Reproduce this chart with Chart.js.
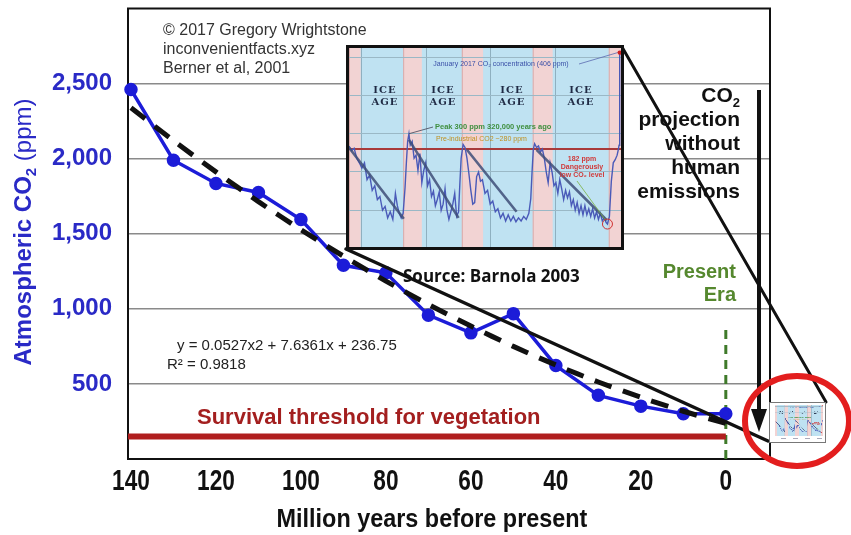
<!DOCTYPE html>
<html><head><meta charset="utf-8">
<script src="https://cdn.jsdelivr.net/npm/chart.js@4.4.1/dist/chart.umd.min.js"></script>
<style>
html,body{margin:0;padding:0;background:#fff;}
#wrap{position:relative;width:851px;height:535px;overflow:hidden;background:#fff;}
#main{position:absolute;left:0;top:0;}
#insetBox{position:absolute;left:346px;top:45px;width:272px;height:199px;border:3px solid #111;background:#bfe2f2;}
#inset{display:block;}
#thumb{position:absolute;left:769px;top:402px;}
</style></head><body>
<div id="wrap">
<canvas id="main" width="851" height="535"></canvas>
<div id="insetBox"><canvas id="inset" width="272" height="199"></canvas></div>
<canvas id="thumb" width="57" height="41"></canvas>
</div>
<script>
// ---------- main chart data ----------
const ages = [140,130,120,110,100,90,80,70,60,50,40,30,20,10,0];
const co2 = [2460,1990,1835,1775,1595,1290,1240,958,840,968,622,424,352,302,302];
const trendAges = [140,130,120,110,100,90,80,70,60,50,40,30,20,10,0];
const trendCo2 = [2339,2120,1912,1714,1527,1351,1185,1029,885,750,626,513,411,318,237];
const xTickLabels = [140,120,100,80,60,40,20,0];
const yTickLabels = [500,1000,1500,2000,2500];
const THRESHOLD = 150;
const PRESENT_TOP = 885;
const X_MIN = -10.4, X_MAX = 140.7, Y_MIN = 0, Y_MAX = 3000;

// ---------- inset (ice core) data ----------
const vostokAges = [420,416,412,408,404,400,396,392,388,384,380,376,372,368,364,360,356,352,348,345,342,339,336,333,331,329,327,
325,322,319,316,313,310,307,304,301,298,295,292,289,286,283,280,277,274,271,268,265,262,259,256,253,250,248,246,243,
240,237,234,231,228,225,222,219,216,213,209,205,201,197,193,189,185,181,177,173,169,165,161,157,153,149,145,141,138,136,134,
132,129,126,123,120,117,114,111,108,105,102,99,96,93,90,87,84,81,78,75,72,69,66,63,60,57,54,51,48,45,42,39,36,33,30,27,24,21,19,16,13,10,7,4,2,1,0];
const vostokPpm = [284,278,281,268,262,255,262,240,246,226,232,214,218,200,205,190,198,188,222,206,196,190,196,230,262,290,300,
285,290,268,272,252,274,236,252,262,232,240,218,225,206,214,224,200,208,228,200,188,198,208,222,192,198,235,268,286,
282,268,248,226,208,210,244,250,238,240,222,226,208,212,198,202,190,196,186,194,186,192,185,190,186,192,188,196,215,250,280,
287,282,284,276,280,268,250,236,262,250,232,236,222,240,228,214,226,216,224,206,214,200,210,196,206,194,206,194,202,192,202,190,198,188,196,186,190,184,182,192,238,262,266,272,280,285,406];
const trendStartAge = [421,327,237,129];
const trendStartPpm = [283,292,279,279];
const trendEndAge = [335,250,160,20];
const trendEndPpm = [189,190,198,187];
const interglacials = [[420,402],[336,307],[245,212],[135,104],[17,-2]];
const PRE_INDUSTRIAL = 280;
const INSET_X_MIN = -2, INSET_X_MAX = 420, INSET_Y_MIN = 152, INSET_Y_MAX = 412;
const insetXGrid = [400,300,200,100];
const insetYGrid = [200,250,300,350,400];

const SANS = "'Liberation Sans', Arial, sans-serif";
const BLUE_TXT = '#2a2ac6';

// ---------- inset chart ----------
const insetBg = {
  id:'insetBg',
  beforeDraw(chart){
    const {ctx, chartArea:a, scales:{x}} = chart;
    ctx.save();
    ctx.fillStyle = '#bfe2f2';
    ctx.fillRect(a.left, a.top, a.right-a.left, a.bottom-a.top);
    interglacials.forEach(([s,e])=>{
      const x1 = x.getPixelForValue(s), x2 = x.getPixelForValue(e);
      ctx.fillStyle = '#f2d3d3';
      ctx.fillRect(Math.min(x1,x2), a.top, Math.abs(x2-x1), a.bottom-a.top);
      ctx.strokeStyle = 'rgba(200,140,140,0.6)'; ctx.lineWidth = 1;
      ctx.beginPath(); ctx.moveTo(x1+0.5,a.top); ctx.lineTo(x1+0.5,a.bottom); ctx.stroke();
    });
    ctx.restore();
  }
};
const insetAnno = {
  id:'insetAnno',
  afterDatasetsDraw(chart){
    const {ctx, scales:{x,y}} = chart;
    ctx.save();
    ctx.fillStyle = '#1f2a44';
    ctx.font = "bold 10px 'DejaVu Serif', 'Liberation Serif', serif";
    ctx.textAlign = 'center'; ctx.textBaseline = 'middle';
    try { ctx.letterSpacing = '1px'; } catch(e) {}
    [36,94,163,232].forEach(cx=>{ ctx.fillText('ICE', cx, 42); ctx.fillText('AGE', cx, 54); });
    try { ctx.letterSpacing = '0px'; } catch(e) {}
    ctx.font = "7px " + SANS;
    ctx.fillStyle = '#3a50a8';
    ctx.fillText('January 2017 CO\u2082 concentration (406 ppm)', 152, 16);
    const px = x.getPixelForValue(0), py = y.getPixelForValue(406);
    ctx.strokeStyle = '#5a6ab0'; ctx.lineWidth = 0.8;
    ctx.beginPath(); ctx.moveTo(230,16); ctx.lineTo(px-2, py); ctx.stroke();
    ctx.fillStyle = '#d02020';
    ctx.beginPath(); ctx.arc(px, py, 2.2, 0, Math.PI*2); ctx.fill();
    ctx.textAlign = 'left';
    ctx.font = "bold 7.5px " + SANS;
    ctx.fillStyle = '#3f8f3f';
    ctx.fillText('Peak 300 ppm 320,000 years ago', 86, 79);
    ctx.strokeStyle = '#445'; ctx.lineWidth = 0.8;
    ctx.beginPath(); ctx.moveTo(84,79); ctx.lineTo(x.getPixelForValue(327), y.getPixelForValue(300)); ctx.stroke();
    ctx.font = "7px " + SANS;
    ctx.fillStyle = '#c09020';
    ctx.fillText('Pre-industrial CO2 ~280 ppm', 87, 91);
    ctx.textAlign = 'center';
    ctx.font = "bold 7px " + SANS;
    ctx.fillStyle = '#d03a3a';
    ctx.fillText('182 ppm', 233, 111);
    ctx.fillText('Dangerously', 233, 119);
    ctx.fillText('low CO\u2082 level', 233, 127);
    const lx = x.getPixelForValue(19), ly = y.getPixelForValue(182);
    ctx.strokeStyle = '#7ab040'; ctx.lineWidth = 0.8;
    ctx.beginPath(); ctx.moveTo(228,133); ctx.lineTo(lx-2, ly-4); ctx.stroke();
    ctx.strokeStyle = '#d03030'; ctx.lineWidth = 1;
    ctx.beginPath(); ctx.arc(lx, ly, 5, 0, Math.PI*2); ctx.stroke();
    ctx.restore();
  }
};
const trendSegs = [];
trendStartAge.forEach((a,i)=>{
  trendSegs.push({x:a, y:trendStartPpm[i]});
  trendSegs.push({x:trendEndAge[i], y:trendEndPpm[i]});
  trendSegs.push({x:trendEndAge[i]-0.5, y:null});
});
const insetCanvas = document.getElementById('inset');
new Chart(insetCanvas, {
  type:'line',
  data:{datasets:[
    {label:'trend', data:trendSegs, borderColor:'rgba(62,78,120,0.85)', borderWidth:2.6, pointRadius:0, spanGaps:false, order:1},
    {label:'Vostok', data:vostokAges.map((a,i)=>({x:a,y:vostokPpm[i]})), borderColor:'#4a5ab8', borderWidth:1.4, pointRadius:0, tension:0, order:2},
    {label:'pre', data:[{x:INSET_X_MAX,y:PRE_INDUSTRIAL},{x:INSET_X_MIN,y:PRE_INDUSTRIAL}], borderColor:'#a83a3a', borderWidth:2, pointRadius:0, order:3}
  ]},
  options:{
    responsive:false, animation:false, events:[],
    plugins:{legend:{display:false}, tooltip:{enabled:false}},
    layout:{padding:0},
    scales:{
      x:{type:'linear', reverse:true, min:INSET_X_MIN, max:INSET_X_MAX,
         afterBuildTicks:s=>{s.ticks = insetXGrid.map(v=>({value:v}));},
         afterFit:s=>{s.height=0; s.paddingLeft=0; s.paddingRight=0;},
         ticks:{display:false}, border:{display:false},
         grid:{color:'#8fb0c0', lineWidth:1, drawTicks:false}},
      y:{type:'linear', min:INSET_Y_MIN, max:INSET_Y_MAX,
         afterBuildTicks:s=>{s.ticks = insetYGrid.map(v=>({value:v}));},
         afterFit:s=>{s.width=0; s.paddingTop=0; s.paddingBottom=0;},
         ticks:{display:false}, border:{display:false},
         grid:{color:'#9ab8c6', lineWidth:1, drawTicks:false}}
    }
  },
  plugins:[insetBg, insetAnno]
});

// thumbnail copy
(function(){
  const t = document.getElementById('thumb').getContext('2d');
  t.fillStyle = '#fff'; t.fillRect(0,0,57,41);
  t.drawImage(insetCanvas, 6, 3, 48, 31);
  t.fillStyle = '#aab';
  [12,24,36,48].forEach(xx=>t.fillRect(xx,36,5,1));
  t.strokeStyle = '#777'; t.lineWidth = 1; t.strokeRect(0.5,0.5,56,40);
})();

// ---------- main chart ----------
function txt(ctx, s, x, y, font, color, align){
  ctx.font = font; ctx.fillStyle = color; ctx.textAlign = align || 'left';
  ctx.fillText(s, x, y);
}
function narrowText(ctx, s, cx, cy, font, color, sx){
  ctx.save(); ctx.translate(cx, cy); ctx.scale(sx, 1);
  ctx.font = font; ctx.fillStyle = color; ctx.textAlign = 'center'; ctx.textBaseline = 'middle';
  ctx.fillText(s, 0, 0); ctx.restore();
}
const mainDeco = {
  id:'mainDeco',
  beforeDatasetsDraw(chart){
    const {ctx, chartArea:a} = chart;
    ctx.save(); ctx.strokeStyle = '#111'; ctx.lineWidth = 2;
    ctx.strokeRect(a.left, a.top, a.right-a.left, a.bottom-a.top); ctx.restore();
  },
  afterDatasetsDraw(chart){
    const {ctx} = chart;
    ctx.save();
    ctx.textBaseline = 'middle';
    txt(ctx, '\u00a9 2017 Gregory Wrightstone', 163, 31, "16px "+SANS, '#333');
    txt(ctx, 'inconvenientfacts.xyz', 163, 50, "16px "+SANS, '#333');
    txt(ctx, 'Berner et al, 2001', 163, 69, "16px "+SANS, '#333');
    txt(ctx, 'y = 0.0527x2 + 7.6361x + 236.75', 177, 346, "15px "+SANS, '#222');
    txt(ctx, 'R\u00b2 = 0.9818', 167, 365, "15px "+SANS, '#222');
    txt(ctx, 'Source: Barnola 2003', 403, 277, "bold 17px 'Open Sans', "+SANS, '#111');
    txt(ctx, 'Survival threshold for vegetation', 197, 418, "bold 22px "+SANS, '#a31f1f');
    txt(ctx, 'Present', 736, 272, "bold 20px "+SANS, '#55882e', 'right');
    txt(ctx, 'Era', 736, 295, "bold 20px "+SANS, '#55882e', 'right');
    ctx.font = "bold 21px "+SANS;
    const wCO = ctx.measureText('CO').width;
    ctx.font = "bold 13px "+SANS;
    const w2 = ctx.measureText('2').width;
    const x0 = 740 - wCO - w2;
    txt(ctx, 'CO', x0, 96, "bold 21px "+SANS, '#111');
    txt(ctx, '2', x0+wCO, 103, "bold 13px "+SANS, '#111');
    ['projection','without','human','emissions'].forEach((s,i)=>{
      txt(ctx, s, 740, 120+i*24, "bold 21px "+SANS, '#111', 'right');
    });
    ctx.restore();
  },
  afterDraw(chart){
    const {ctx} = chart;
    const xs = chart.scales.x;
    // x tick labels (condensed bold) at the scale's tick positions
    xs.ticks.forEach(t=>{
      narrowText(ctx, String(t.value), xs.getPixelForValue(t.value), 482, "bold 29px "+SANS, '#111', 0.78);
    });
    // x axis title
    narrowText(ctx, 'Million years before present', 432, 520, "bold 26px "+SANS, '#111', 0.9);

    ctx.save();
    ctx.translate(22, 232); ctx.rotate(-Math.PI/2);
    const f1 = "bold 24px "+SANS, f2 = "bold 15px "+SANS, f3 = "24px "+SANS;
    ctx.font = f1; const w1 = ctx.measureText('Atmospheric CO').width;
    ctx.font = f2; const ws = ctx.measureText('2').width;
    ctx.font = f3; const w3 = ctx.measureText(' (ppm)').width;
    let sx = -(w1+ws+w3)/2;
    ctx.textBaseline = 'alphabetic'; ctx.fillStyle = BLUE_TXT; ctx.textAlign = 'left';
    ctx.font = f1; ctx.fillText('Atmospheric CO', sx, 9);
    ctx.font = f2; ctx.fillText('2', sx+w1, 14);
    ctx.font = f3; ctx.fillText(' (ppm)', sx+w1+ws, 9);
    ctx.restore();

    ctx.save();
    ctx.strokeStyle = '#111'; ctx.lineCap = 'round';
    ctx.lineWidth = 3;
    ctx.beginPath(); ctx.moveTo(622,47); ctx.lineTo(826,402); ctx.stroke();
    ctx.lineWidth = 3.5;
    ctx.beginPath(); ctx.moveTo(346,249); ctx.lineTo(768,441); ctx.stroke();
    ctx.lineWidth = 4; ctx.lineCap = 'butt';
    ctx.beginPath(); ctx.moveTo(759,90); ctx.lineTo(759,412); ctx.stroke();
    ctx.fillStyle = '#111';
    ctx.beginPath(); ctx.moveTo(751,409); ctx.lineTo(767,409); ctx.lineTo(759,432); ctx.closePath(); ctx.fill();
    ctx.strokeStyle = '#e31e1e'; ctx.lineWidth = 6;
    ctx.beginPath(); ctx.ellipse(797, 421, 52, 45, 0, 0, Math.PI*2); ctx.stroke();
    ctx.restore();
  }
};

new Chart(document.getElementById('main'), {
  type:'line',
  data:{datasets:[
    {label:'trend', data:trendAges.map((a,i)=>({x:a,y:trendCo2[i]})), borderColor:'#111', borderWidth:5, borderDash:[18,12], pointRadius:0, tension:0.3, order:1},
    {label:'CO2', data:ages.map((a,i)=>({x:a,y:co2[i]})), borderColor:'#1c1cd8', backgroundColor:'#1c1cd8', borderWidth:3.5, pointRadius:5, pointHoverRadius:5, clip:false, order:2},
    {label:'threshold', data:[{x:X_MAX,y:THRESHOLD},{x:0,y:THRESHOLD}], borderColor:'#b01e1e', borderWidth:6, pointRadius:0, order:3},
    {label:'present', data:[{x:0,y:Y_MIN},{x:0,y:PRESENT_TOP}], borderColor:'#3f7a2a', borderWidth:3, borderDash:[9,6], pointRadius:0, order:4}
  ]},
  options:{
    responsive:false, animation:false, events:[],
    plugins:{legend:{display:false}, tooltip:{enabled:false}},
    layout:{padding:{top:5, right:81, left:0, bottom:0}},
    scales:{
      x:{type:'linear', reverse:true, min:X_MIN, max:X_MAX,
         afterBuildTicks:s=>{s.ticks = xTickLabels.map(v=>({value:v}));},
         afterFit:s=>{s.height=76; s.paddingLeft=0; s.paddingRight=0;},
         grid:{display:false, drawTicks:false}, border:{display:false},
         ticks:{display:false}},
      y:{type:'linear', min:Y_MIN, max:Y_MAX,
         afterBuildTicks:s=>{s.ticks = [Y_MIN].concat(yTickLabels, [Y_MAX]).map(v=>({value:v}));},
         afterFit:s=>{s.width=128; s.paddingTop=0; s.paddingBottom=0;},
         grid:{color:c=> (c.tick && yTickLabels.includes(c.tick.value)) ? '#8a8a8a' : 'rgba(0,0,0,0)', lineWidth:1.5, drawTicks:false},
         border:{display:false},
         ticks:{color:BLUE_TXT, font:{family:SANS, size:24, weight:'bold'}, padding:16,
                callback:v=> yTickLabels.includes(v) ? v.toLocaleString('en-US') : ''}}
    }
  },
  plugins:[mainDeco]
});
</script>
</body></html>
